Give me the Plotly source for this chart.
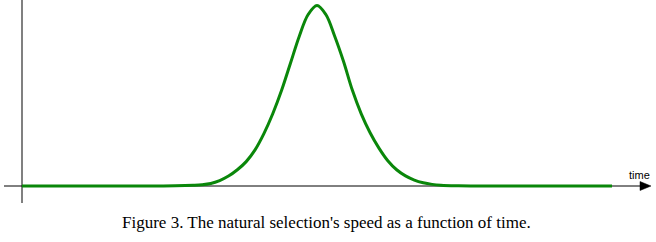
import plotly.graph_objects as go

# Data (time in arbitrary units, speed normalized to peak = 1)
time = [-50, -40, -30, -27, -24, -21, -19.5, -18, -16.5, -15, -13.5, -12, -10.5, -9,
        -7.5, -6, -4.5, -3, -1.5, 0, 1.5, 3, 4.5, 6, 7.5, 9, 10.5, 12, 13.5, 15,
        16.5, 18, 19.5, 21, 24, 27, 30, 40, 50]
speed = [0, 0, 0, 0, 0.001, 0.004, 0.007, 0.014, 0.03, 0.055, 0.09, 0.135, 0.20, 0.29,
         0.40, 0.53, 0.68, 0.83, 0.95, 1.0, 0.95, 0.83, 0.69, 0.53, 0.40, 0.295, 0.21, 0.14, 0.09, 0.056,
         0.033, 0.018, 0.009, 0.004, 0.001, 0, 0, 0, 0]

x_label = "time"
caption = "Figure 3. The natural selection's speed as a function of time."

W, H = 656, 242
# pixel mapping helpers (layout only)
x0_px, x_scale = 317, 5.9      # px of time 0, px per time unit
y0_px, y_scale = 186, 180.5    # px of speed 0, px per speed unit

def px_x(p):
    return p / W

def px_y(p):
    return 1 - p / H

fig = go.Figure()
fig.add_trace(go.Scatter(
    x=time, y=speed, mode="lines",
    line=dict(color="#0a870a", width=3, shape="spline", smoothing=1.0),
    hoverinfo="skip", showlegend=False,
))

shapes = [
    # y axis (gray vertical)
    dict(type="line", xref="paper", yref="paper",
         x0=px_x(22), x1=px_x(22), y0=px_y(0), y1=px_y(203),
         line=dict(color="#808080", width=2), layer="below"),
    # x axis (black horizontal)
    dict(type="line", xref="paper", yref="paper",
         x0=px_x(4), x1=px_x(642), y0=px_y(186), y1=px_y(186),
         line=dict(color="black", width=1), layer="below"),
    # arrow head
    dict(type="path", xref="paper", yref="paper",
         path=f"M {px_x(651)},{px_y(186)} L {px_x(640)},{px_y(181.5)} L {px_x(640)},{px_y(190.5)} Z",
         fillcolor="black", line=dict(color="black", width=0.5)),
]

annotations = [
    dict(text=x_label, xref="paper", yref="paper", x=px_x(639), y=px_y(175),
         xanchor="center", yanchor="middle", showarrow=False,
         font=dict(family="Liberation Sans, Arial", size=11, color="black")),
    dict(text=caption, xref="paper", yref="paper", x=px_x(326), y=px_y(222),
         xanchor="center", yanchor="middle", showarrow=False,
         font=dict(family="Liberation Serif, Times New Roman", size=17, color="black")),
]

fig.update_layout(
    width=W, height=H,
    margin=dict(l=0, r=0, t=0, b=0),
    paper_bgcolor="white", plot_bgcolor="white",
    xaxis=dict(range=[(0 - x0_px) / x_scale, (W - x0_px) / x_scale],
               visible=False, fixedrange=True),
    yaxis=dict(range=[(y0_px - H) / y_scale, (y0_px - 0) / y_scale],
               visible=False, fixedrange=True),
    shapes=shapes, annotations=annotations,
)

fig.write_html(
    "out.html",
    config={"displayModeBar": False},
    post_script="document.body.style.margin='0';document.body.style.overflow='hidden';",
)
